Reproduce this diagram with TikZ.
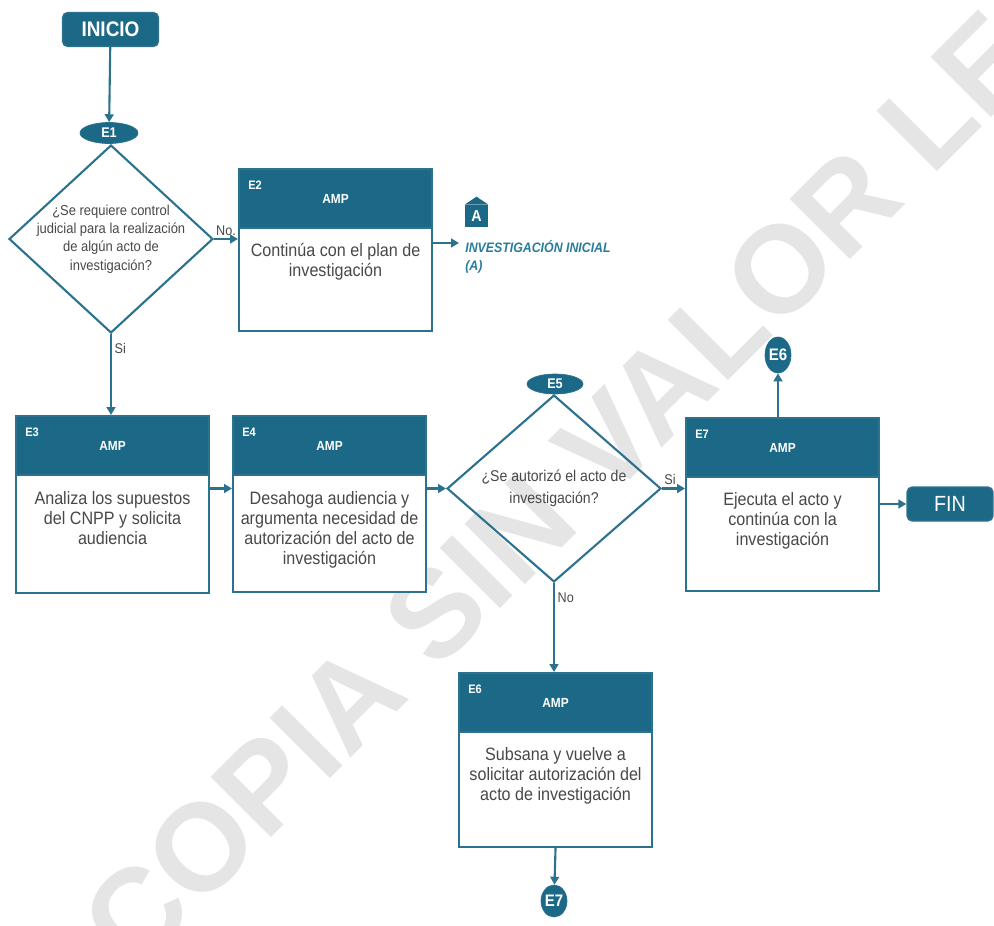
\documentclass[tikz,border=0pt]{standalone}
\usepackage{fontspec}
\setmainfont{Liberation Sans}[FakeStretch=0.9]
\newfontfamily\aguafont{Liberation Sans}
\usepackage{tikz}
\usetikzlibrary{shapes.geometric, arrows.meta, positioning}
\definecolor{azul}{RGB}{28,105,135}
\definecolor{linea}{RGB}{44,114,143}
\definecolor{texto}{RGB}{72,72,72}
\definecolor{agua}{RGB}{229,229,229}
\definecolor{azulclaro}{RGB}{38,125,155}

\tikzset{
  flecha/.style={draw=linea, line width=1.2pt, -{Triangle[length=4.5pt,width=5pt]}},
  caja/.style={draw=linea, line width=1.2pt, fill=white, minimum width=3.86cm, inner sep=0pt},
  cabecera/.style={fill=azul, draw=linea, line width=1.2pt, minimum width=3.86cm, minimum height=1.18cm, inner sep=0pt, text=white, font=\bfseries\fontsize{7.5}{9}\selectfont},
  paso/.style={text=white, font=\bfseries\fontsize{7}{8}\selectfont, inner sep=0pt, anchor=north west},
  cuerpo/.style={text=texto, align=center, font=\fontsize{10.2}{11.34}\selectfont, inner sep=0pt, anchor=north},
  rombo/.style={diamond, draw=linea, line width=1.2pt, inner sep=0pt},
  pregunta/.style={text=texto, align=center, inner sep=0pt},
  elipse/.style={ellipse, fill=azul, draw=linea, inner sep=0pt, text=white, font=\bfseries\fontsize{8}{9}\selectfont},
  terminal/.style={rounded corners=3pt, fill=azul, draw=linea, line width=0.8pt, text=white, inner sep=0pt, minimum height=0.68cm},
  resp/.style={text=texto, font=\fontsize{8}{9}\selectfont, inner sep=1.5pt},
}

\begin{document}
\begin{tikzpicture}[x=0.02cm, y=-0.02cm]
  \useasboundingbox (0,0) rectangle (994,926);

  % marca de agua
  \node[text=agua, rotate=45, inner sep=0pt, font=\aguafont\bfseries\fontsize{70.6}{72}\selectfont] (agua) at (559,490) {COPIA SIN VALOR LE};

  % inicio y fin
  \node[terminal, minimum width=1.92cm, font=\bfseries\fontsize{12}{14}\selectfont] (inicio) at (110.5,29.5) {INICIO};
  \node[terminal, minimum width=1.72cm, font=\fontsize{12.5}{14}\selectfont] (fin) at (950,504) {FIN};

  % E1
  \node[elipse, minimum width=1.16cm, minimum height=0.42cm] (e1c) at (109,133) {E1};
  \node[rombo, minimum width=4.08cm, minimum height=3.76cm] (e1d) at (111,239) {};
  \node[pregunta, font=\fontsize{8.2}{10.5}\selectfont] (e1t) at (e1d.center) {¿Se requiere control\\judicial para la realización\\de algún acto de\\investigación?};

  % E2
  \node[caja, minimum height=3.24cm, anchor=north west] (e2) at (238,168) {};
  \node[cabecera, anchor=north] (e2h) at (e2.north) {AMP};
  \node[paso] (e2n) at ([xshift=0.2cm,yshift=-0.26cm]e2.north west) {E2};
  \node[cuerpo] (e2t) at ([yshift=-0.28cm]e2h.south) {Continúa con el plan de\\investigación};

  % conector A
  \node[fill=azul, minimum width=0.46cm, minimum height=0.44cm, inner sep=0pt, text=white, font=\bfseries\fontsize{9}{10}\selectfont] (mA) at (476.5,216) {A};
  \fill[azul] (mA.north west) -- ([yshift=0.16cm]mA.north) -- (mA.north east) -- cycle;
  \node[anchor=north west, text=azulclaro, align=left, inner sep=0pt, font=\bfseries\itshape\fontsize{7.8}{10.2}\selectfont] (lblA) at (465,240) {INVESTIGACIÓN INICIAL\\(A)};
  \coordinate (pA) at (459,243);

  % E3
  \node[caja, minimum height=3.54cm, anchor=north west] (e3) at (15,415) {};
  \node[cabecera, anchor=north] (e3h) at (e3.north) {AMP};
  \node[paso] (e3n) at ([xshift=0.2cm,yshift=-0.26cm]e3.north west) {E3};
  \node[cuerpo] (e3t) at ([yshift=-0.3cm]e3h.south) {Analiza los supuestos\\del CNPP y solicita\\audiencia};

  % E4
  \node[caja, minimum height=3.52cm, anchor=north west] (e4) at (232,415) {};
  \node[cabecera, anchor=north] (e4h) at (e4.north) {AMP};
  \node[paso] (e4n) at ([xshift=0.2cm,yshift=-0.26cm]e4.north west) {E4};
  \node[cuerpo] (e4t) at ([yshift=-0.3cm]e4h.south) {Desahoga audiencia y\\argumenta necesidad de\\autorización del acto de\\investigación};

  % E5
  \node[elipse, minimum width=1.12cm, minimum height=0.4cm] (e5c) at (555,384) {E5};
  \node[rombo, minimum width=4.28cm, minimum height=3.74cm] (e5d) at (554,488.5) {};
  \node[pregunta, font=\fontsize{8.9}{12.4}\selectfont] (e5t) at (e5d.center) {¿Se autorizó el acto de\\investigación?};

  % E7
  \node[caja, minimum height=3.46cm, anchor=north west] (e7) at (685,417) {};
  \node[cabecera, anchor=north] (e7h) at (e7.north) {AMP};
  \node[paso] (e7n) at ([xshift=0.2cm,yshift=-0.26cm]e7.north west) {E7};
  \node[cuerpo] (e7t) at ([yshift=-0.28cm]e7h.south) {Ejecuta el acto y\\continúa con la\\investigación};
  \node[elipse, minimum width=0.44cm, minimum height=0.72cm, font=\bfseries\fontsize{9.5}{10}\selectfont] (e6c) at (778,355) {E6};

  % E6
  \node[caja, minimum height=3.48cm, anchor=north west] (e6) at (458,672) {};
  \node[cabecera, anchor=north] (e6h) at (e6.north) {AMP};
  \node[paso] (e6n) at ([xshift=0.2cm,yshift=-0.26cm]e6.north west) {E6};
  \node[cuerpo] (e6t) at ([yshift=-0.28cm]e6h.south) {Subsana y vuelve a\\solicitar autorización del\\acto de investigación};
  \node[elipse, minimum width=0.46cm, minimum height=0.64cm, font=\bfseries\fontsize{9.5}{10}\selectfont] (e7c) at (554,901) {E7};

  % conectores
  \draw[flecha] (inicio) -- (e1c);
  \draw[flecha] (e1d.east) -- (e1d.east -| e2.west) node[resp, midway, above] (no1) {No.};
  \draw[flecha] (e1d.south) -- (e1d.south |- e3.north) node[resp, pos=0.18, right] (si1) {Si};
  \draw[flecha] (e2.east |- pA) -- (pA);
  \draw[flecha] (e3.east |- e5d.west) -- (e4.west |- e5d.west);
  \draw[flecha] (e4.east |- e5d.west) -- (e5d.west);
  \draw[flecha] (e5d.east) -- (e5d.east -| e7.west) node[resp, pos=0.35, above] (si2) {Si};
  \draw[flecha] (e5d.south) -- (e5d.south |- e6.north) node[resp, pos=0.17, right] (no2) {No};
  \draw[flecha] (e6c.south |- e7.north) -- (e6c);
  \draw[flecha] (e7.east |- fin) -- (fin);
  \draw[flecha] (e6.south) -- (e7c);
\end{tikzpicture}
\end{document}
